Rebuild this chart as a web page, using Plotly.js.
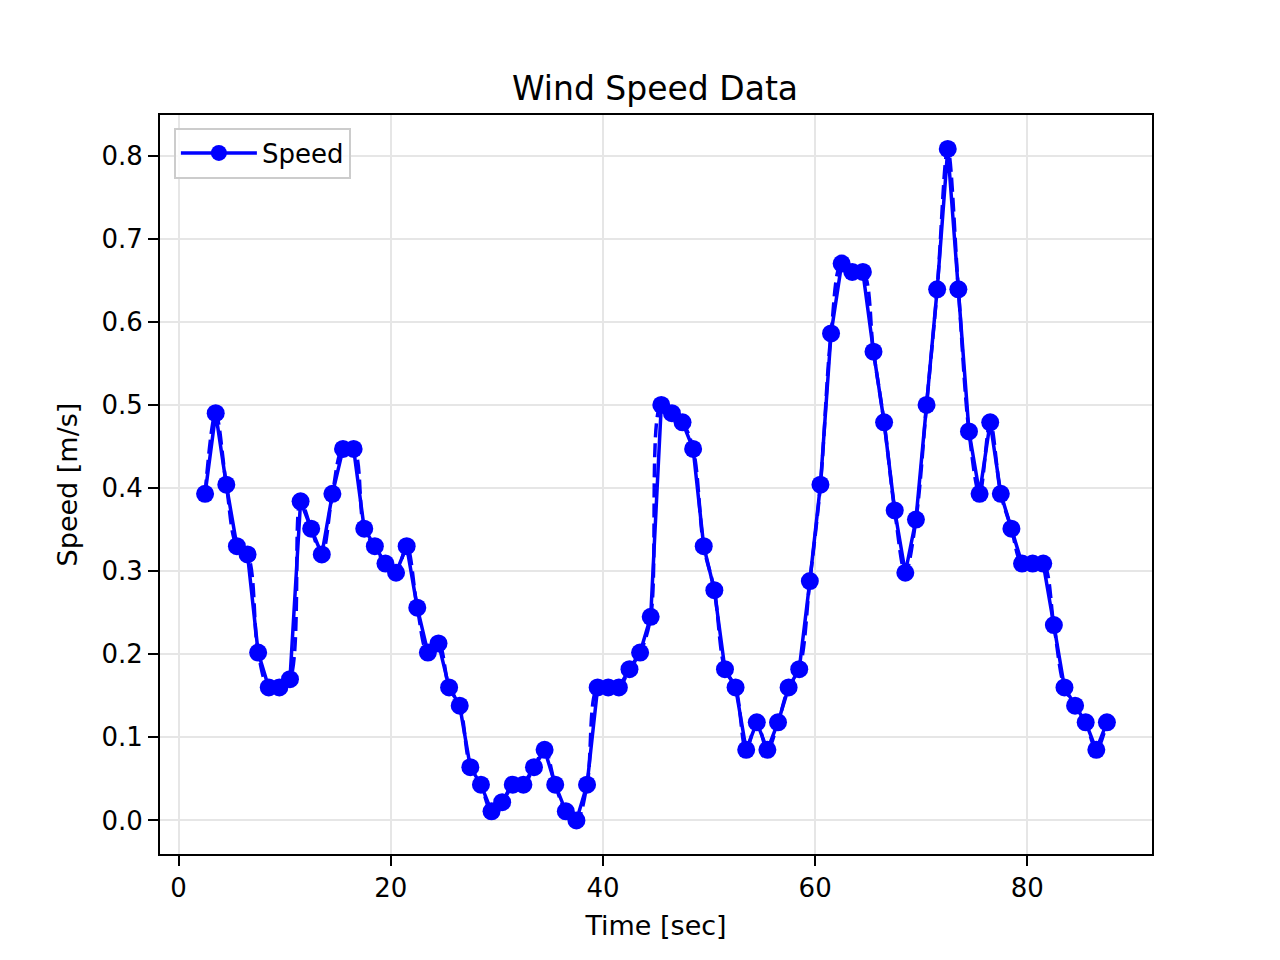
<!DOCTYPE html>
<html>
<head>
<meta charset="utf-8">
<script src="https://cdn.plot.ly/plotly-3.0.1.min.js"></script>
<style>html,body{margin:0;padding:0;background:#fff;}#chart{width:1280px;height:960px;}</style>
</head>
<body>
<div id="chart"></div>
<script>
// Time stamps (sec)
const timeSec = [
  2.5, 3.5, 4.5, 5.5, 6.5, 7.5, 8.5, 9.5, 10.5, 11.5,
  12.5, 13.5, 14.5, 15.5, 16.5, 17.5, 18.5, 19.5, 20.5, 21.5,
  22.5, 23.5, 24.5, 25.5, 26.5, 27.5, 28.5, 29.5, 30.5, 31.5,
  32.5, 33.5, 34.5, 35.5, 36.5, 37.5, 38.5, 39.5, 40.5, 41.5,
  42.5, 43.5, 44.5, 45.5, 46.5, 47.5, 48.5, 49.5, 50.5, 51.5,
  52.5, 53.5, 54.5, 55.5, 56.5, 57.5, 58.5, 59.5, 60.5, 61.5,
  62.5, 63.5, 64.5, 65.5, 66.5, 67.5, 68.5, 69.5, 70.5, 71.5,
  72.5, 73.5, 74.5, 75.5, 76.5, 77.5, 78.5, 79.5, 80.5, 81.5,
  82.5, 83.5, 84.5, 85.5, 86.5, 87.5
];
// Wind speed (m/s)
const speed = [
  0.393, 0.490, 0.404, 0.330, 0.320, 0.202, 0.160, 0.160, 0.170, 0.384,
  0.351, 0.320, 0.393, 0.447, 0.447, 0.351, 0.330, 0.309, 0.298, 0.330,
  0.256, 0.202, 0.213, 0.160, 0.138, 0.064, 0.043, 0.011, 0.022, 0.043,
  0.043, 0.064, 0.085, 0.043, 0.011, 0.000, 0.043, 0.160, 0.160, 0.160,
  0.182, 0.202, 0.245, 0.500, 0.490, 0.479, 0.447, 0.330, 0.277, 0.182,
  0.160, 0.085, 0.118, 0.085, 0.118, 0.160, 0.182, 0.288, 0.404, 0.586,
  0.670, 0.660, 0.660, 0.564, 0.479, 0.373, 0.298, 0.362, 0.500, 0.639,
  0.808, 0.639, 0.468, 0.393, 0.479, 0.393, 0.351, 0.309, 0.309, 0.309,
  0.235, 0.160, 0.138, 0.118, 0.085, 0.118
];
const xTickVals = [0, 20, 40, 60, 80];
const yTickVals = [0.0, 0.1, 0.2, 0.3, 0.4, 0.5, 0.6, 0.7, 0.8];

const FONT = 'DejaVu Sans, sans-serif';
const BLUE = '#0000ff';

const traces = [
  {
    x: timeSec, y: speed, type: 'scatter', mode: 'lines',
    line: {color: BLUE, width: 3.5, dash: '14px,6px', shape: 'spline', smoothing: 1},
    showlegend: false, hoverinfo: 'skip'
  },
  {
    x: timeSec, y: speed, type: 'scatter', mode: 'lines+markers', name: 'Speed',
    line: {color: BLUE, width: 3.5},
    marker: {color: BLUE, size: 18}
  }
];

const axisCommon = {
  showline: true, linecolor: '#000', linewidth: 2, mirror: true,
  ticks: 'outside', ticklen: 10, tickwidth: 2, tickcolor: '#000',
  showgrid: true, gridcolor: '#e6e6e6', gridwidth: 2,
  zeroline: false,
  tickfont: {family: FONT, size: 26, color: '#000'}
};

const layout = {
  width: 1280, height: 960,
  paper_bgcolor: '#fff', plot_bgcolor: '#fff',
  margin: {l: 160, r: 128, t: 115, b: 106},
  font: {family: FONT, color: '#000'},
  title: {
    text: 'Wind Speed Data', font: {family: FONT, size: 33, color: '#000'},
    x: 655 / 1280, xanchor: 'center', xref: 'container',
    y: 1 - 88 / 960, yanchor: 'middle', yref: 'container'
  },
  xaxis: Object.assign({}, axisCommon, {
    range: [-1.75, 91.75], tickvals: xTickVals, ticktext: xTickVals.map(String),
    title: {text: 'Time [sec]', font: {family: FONT, size: 27, color: '#000'}, standoff: 14}
  }),
  yaxis: Object.assign({}, axisCommon, {
    range: [-0.0404, 0.8488], tickvals: yTickVals, ticktext: yTickVals.map(v => v.toFixed(1)),
    title: {text: 'Speed [m/s]', font: {family: FONT, size: 27, color: '#000'}, standoff: 16}
  }),
  legend: {
    x: 0.014, y: 0.983, xanchor: 'left', yanchor: 'top',
    bgcolor: 'rgba(255,255,255,0.8)', bordercolor: '#cccccc', borderwidth: 2,
    itemwidth: 76,
    font: {family: FONT, size: 26, color: '#000'}
  },
  showlegend: true
};

Plotly.newPlot('chart', traces, layout, {displayModeBar: false, staticPlot: true});
</script>
</body>
</html>
